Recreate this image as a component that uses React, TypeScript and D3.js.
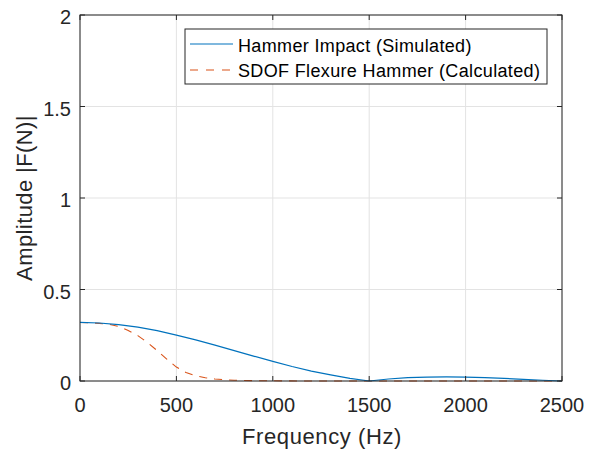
import React from "react";
import * as d3 from "d3";

const freqBlue = [0, 100, 200, 300, 400, 500, 600, 700, 800, 900, 1000, 1100, 1200, 1300, 1400, 1500, 1600, 1700, 1800, 1900, 2000, 2100, 2200, 2300, 2400, 2500];
const ampBlue = [0.32, 0.317, 0.308, 0.294, 0.275, 0.251, 0.225, 0.196, 0.166, 0.136, 0.107, 0.079, 0.054, 0.033, 0.014, 0.0, 0.011, 0.018, 0.021, 0.022, 0.021, 0.018, 0.014, 0.009, 0.004, 0.0];

const freqOrange = [0, 50, 100, 150, 200, 250, 300, 350, 400, 450, 500, 550, 600, 650, 700, 750, 800, 900, 1000, 1200, 1500, 2000, 2500];
const ampOrange = [0.32, 0.318, 0.315, 0.31, 0.298, 0.276, 0.248, 0.21, 0.166, 0.12, 0.076, 0.046, 0.028, 0.018, 0.011, 0.007, 0.004, 0.002, 0.001, 0.0, 0.0, 0.0, 0.0];

const xTicks = [0, 500, 1000, 1500, 2000, 2500];
const yTicks = [0, 0.5, 1, 1.5, 2];
const seriesNames = ["Hammer Impact (Simulated)", "SDOF Flexure Hammer (Calculated)"];

export default function App() {
  const W = 597, H = 449;
  const L = 80, R = 562, T = 15, B = 381;
  const x = d3.scaleLinear().domain([0, 2500]).range([L, R]);
  const y = d3.scaleLinear().domain([0, 2]).range([B, T]);
  const line = d3.line<[number, number]>().x(d => x(d[0])).y(d => y(d[1]));
  const blue = line(freqBlue.map((f, i) => [f, ampBlue[i]]) as [number, number][]) || "";
  const orange = line(freqOrange.map((f, i) => [f, ampOrange[i]]) as [number, number][]) || "";
  const axisColor = "#262626";
  const font = "'Liberation Sans', Arial, Helvetica, sans-serif";
  return (
    <svg width={W} height={H} style={{ position: "absolute", left: 0, top: 0, background: "#fff" }} fontFamily={font}>
      <rect x={0} y={0} width={W} height={H} fill="#fff" />
      {xTicks.map(t => (
        <line key={"gx" + t} x1={x(t)} x2={x(t)} y1={T} y2={B} stroke="#e3e3e3" strokeWidth={1} />
      ))}
      {yTicks.map(t => (
        <line key={"gy" + t} x1={L} x2={R} y1={y(t)} y2={y(t)} stroke="#e3e3e3" strokeWidth={1} />
      ))}
      <path d={orange} fill="none" stroke="#D95319" strokeWidth={1.1} strokeDasharray="8,7" />
      <path d={blue} fill="none" stroke="#0072BD" strokeWidth={1.2} />
      <rect x={L} y={T} width={R - L} height={B - T} fill="none" stroke={axisColor} strokeWidth={1} />
      {xTicks.map(t => (
        <g key={"tx" + t}>
          <line x1={x(t)} x2={x(t)} y1={B} y2={B - 5} stroke={axisColor} />
          <line x1={x(t)} x2={x(t)} y1={T} y2={T + 5} stroke={axisColor} />
          <text x={x(t)} y={B + 31} textAnchor="middle" fontSize={20} fill={axisColor}>{t}</text>
        </g>
      ))}
      {yTicks.map(t => (
        <g key={"ty" + t}>
          <line x1={L} x2={L + 5} y1={y(t)} y2={y(t)} stroke={axisColor} />
          <line x1={R} x2={R - 5} y1={y(t)} y2={y(t)} stroke={axisColor} />
          <text x={L - 9} y={y(t) + 9} textAnchor="end" fontSize={20} fill={axisColor}>{t}</text>
        </g>
      ))}
      <text x={322} y={444} textAnchor="middle" fontSize={22} letterSpacing={0.6} fill={axisColor}>Frequency (Hz)</text>
      <text transform={`translate(32, 198) rotate(-90)`} textAnchor="middle" fontSize={22} letterSpacing={0.4} fill={axisColor}>Amplitude |F(N)|</text>
      <g>
        <rect x={185} y={29} width={362} height={55} fill="#fff" stroke={axisColor} strokeWidth={1} />
        <line x1={190} x2={233} y1={44} y2={44} stroke="#0072BD" strokeWidth={1.2} />
        <line x1={190} x2={233} y1={70} y2={70} stroke="#D95319" strokeWidth={1.1} strokeDasharray="8,8" />
        <text x={238} y={52} fontSize={18} letterSpacing={0.35} fill="#000">{seriesNames[0]}</text>
        <text x={238} y={77} fontSize={18} letterSpacing={0.35} fill="#000">{seriesNames[1]}</text>
      </g>
    </svg>
  );
}
